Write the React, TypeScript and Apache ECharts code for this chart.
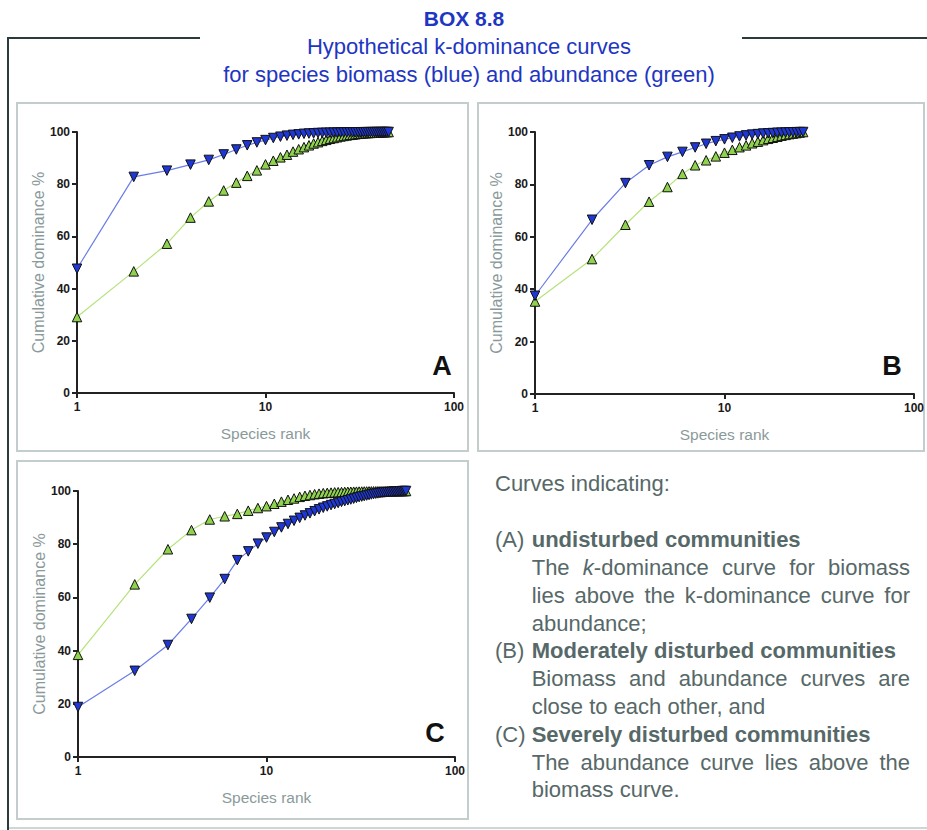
import React, { useEffect, useRef } from "react";
import * as echarts from "echarts";

const FONT = "'Liberation Sans', Arial, Helvetica, sans-serif";

// ---- texts ----
const titleLines = [
  "BOX 8.8",
  "Hypothetical k-dominance curves",
  "for species biomass (blue) and abundance (green)",
];
const panelLetters = ["A", "B", "C"];
const xAxisName = "Species rank";
const yAxisName = "Cumulative dominance %";
const noteIntro = "Curves indicating:";
const noteHeads = ["(A)", "(B)", "(C)"];
const noteTitles = [
  "undisturbed communities",
  "Moderately disturbed communities",
  "Severely disturbed communities",
];
const noteBodies = [
  ["The {i|k}-dominance curve for biomass", "lies above the k-dominance curve for", "abundance;"],
  ["Biomass and abundance curves are", "close to each other, and"],
  ["The abundance curve lies above the", "biomass curve."],
];

// ---- data: cumulative dominance % by species rank (1..n) ----
const biomassA = [
  47.6, 82.8, 85.2, 87.5, 89.3, 91.4, 93.3, 94.9, 96.0, 96.9,
  97.7, 98.2, 98.6, 98.9, 99.1, 99.3, 99.4, 99.5, 99.6, 99.65,
  99.7, 99.72, 99.75, 99.78, 99.8, 99.82, 99.84, 99.86, 99.87, 99.88,
  99.9, 99.91, 99.92, 99.93, 99.94, 99.95, 99.96, 99.97, 99.97, 99.98,
  99.98, 99.99, 99.99, 100, 100,
];
const abundanceA = [
  29.1, 46.6, 57.2, 67.2, 73.4, 77.6, 80.6, 83.2, 85.3, 87.6,
  89.0, 90.3, 91.3, 92.5, 93.4, 94.2, 94.9, 95.6, 96.1, 96.6,
  97.0, 97.4, 97.7, 98.0, 98.3, 98.5, 98.7, 98.9, 99.0, 99.15,
  99.3, 99.4, 99.5, 99.55, 99.6, 99.65, 99.7, 99.75, 99.8, 99.85,
  99.88, 99.91, 99.94, 99.97, 100,
];
const biomassB = [
  37.5, 66.5, 80.5, 87.3, 90.5, 92.4, 94.1, 95.5, 96.5, 97.2,
  97.8, 98.3, 98.7, 99.0, 99.2, 99.4, 99.5, 99.6, 99.7, 99.75,
  99.8, 99.85, 99.9, 99.93, 99.96, 100,
];
const abundanceB = [
  35.3, 51.5, 64.6, 73.4, 79.0, 84.0, 87.3, 89.2, 90.7, 92.1,
  93.2, 94.2, 94.9, 95.7, 96.3, 96.9, 97.4, 97.8, 98.2, 98.6,
  98.9, 99.2, 99.4, 99.6, 99.8, 100,
];
const biomassC = [
  18.8, 32.4, 42.1, 51.9, 59.9, 66.9, 74.0, 77.3, 80.2, 82.5,
  84.6, 86.3, 87.6, 88.8, 89.9, 90.8, 91.6, 92.4, 93.1, 93.7,
  94.2, 94.7, 95.1, 95.5, 95.9, 96.2, 96.5, 96.8, 97.1, 97.4,
  97.7, 97.9, 98.1, 98.3, 98.5, 98.7, 98.85, 99.0, 99.1, 99.2,
  99.3, 99.4, 99.5, 99.55, 99.6, 99.65, 99.7, 99.75, 99.8, 99.85,
  99.9, 99.93, 99.96, 99.98, 100,
];
const abundanceC = [
  38.4, 64.9, 78.1, 85.3, 89.3, 90.5, 91.4, 92.6, 93.6, 94.3,
  95.2, 96.0, 96.7, 97.2, 97.8, 98.2, 98.5, 98.8, 99.0, 99.2,
  99.3, 99.4, 99.5, 99.55, 99.6, 99.65, 99.7, 99.72, 99.74, 99.76,
  99.78, 99.8, 99.82, 99.84, 99.85, 99.86, 99.87, 99.88, 99.89, 99.9,
  99.91, 99.92, 99.93, 99.94, 99.95, 99.96, 99.97, 99.97, 99.98, 99.98,
  99.99, 99.99, 100, 100, 100,
];

const panels = [
  { biomass: biomassA, abundance: abundanceA },
  { biomass: biomassB, abundance: abundanceB },
  { biomass: biomassC, abundance: abundanceC },
];

// ---- styles ----
const BLUE_FILL = "#1f37d4";
const BLUE_LINE = "#6a7de6";
const GREEN_FILL = "#8fd24e";
const GREEN_LINE = "#b6e27c";
const AXIS_COLOR = "#222";
const NAME_COLOR = "#8a9a9a";
const NOTE_COLOR = "#566868";
const TITLE_COLOR = "#1e36c2";
const BOX_COLOR = "#c3cdcd";
const FRAME_COLOR = "#2b3a3a";

const GRIDS = [
  { left: 77, top: 132, width: 377, height: 261 },
  { left: 535, top: 132, width: 381, height: 262 },
  { left: 78, top: 491, width: 377, height: 266 },
];
const BOXES = [
  { x: 17, y: 103, width: 451, height: 348 },
  { x: 478, y: 103, width: 446, height: 348 },
  { x: 17, y: 461, width: 451, height: 358 },
];
const LETTER_POS = [
  [442, 366],
  [892, 366],
  [435, 733],
];

let measureCtx: CanvasRenderingContext2D | null = null;
function measure(text: string, font: string): number {
  if (!measureCtx) measureCtx = document.createElement("canvas").getContext("2d");
  if (!measureCtx) return text.length * 10;
  measureCtx.font = font;
  return measureCtx.measureText(text).width;
}

function buildNotes(): any[] {
  const els: any[] = [];
  const fs = 22;
  const regFont = `${fs}px ${FONT}`;
  const xHead = 495;
  const xBody = 531.7;
  const xRight = 910;
  const lh = 27.8;
  const off = 7.7; // baseline -> middle
  const txt = (x: number, y: number, text: string, bold = false, align = "left") => ({
    type: "text",
    x,
    y: y - off,
    silent: true,
    style: {
      text,
      fill: NOTE_COLOR,
      fontSize: fs,
      fontFamily: FONT,
      fontWeight: bold ? "bold" : "normal",
      align,
      textAlign: align,
      verticalAlign: "middle",
      textVerticalAlign: "middle",
      rich: { i: { fontStyle: "italic", fontSize: fs, fontFamily: FONT, fill: NOTE_COLOR } },
    },
  });
  els.push(txt(xHead, 491, noteIntro));
  let y = 547.3;
  noteHeads.forEach((head, k) => {
    els.push(txt(xHead, y, head));
    els.push(txt(xBody, y, noteTitles[k], true));
    y += lh;
    const body = noteBodies[k];
    body.forEach((line, j) => {
      const last = j === body.length - 1;
      if (last) {
        els.push(txt(xBody, y, line));
      } else {
        const words = line.split(" ");
        const widths = words.map((w) => measure(w.replace(/\{i\|(.*?)\}/g, "$1"), regFont));
        const total = widths.reduce((a, b) => a + b, 0);
        const gap = (xRight - xBody - total) / (words.length - 1);
        let x = xBody;
        words.forEach((w, m) => {
          els.push(txt(x, y, w));
          x += widths[m] + gap;
        });
      }
      y += lh;
    });
  });
  return els;
}

function buildOption(): any {
  const grid = GRIDS.map((g) => ({ ...g, containLabel: false }));
  const axisLineStyle = { color: AXIS_COLOR, width: 2 };
  const labelStyle = { color: "#1a1a1a", fontSize: 12, fontWeight: "bold", fontFamily: FONT };
  const xAxis = GRIDS.map((_, i) => ({
    type: "log",
    logBase: 10,
    min: 1,
    max: 100,
    gridIndex: i,
    name: xAxisName,
    nameLocation: "middle",
    nameGap: 32,
    nameTextStyle: { color: NAME_COLOR, fontSize: 15.5, fontFamily: FONT },
    axisLine: { show: true, lineStyle: axisLineStyle },
    axisTick: { show: true, inside: false, length: 5, lineStyle: axisLineStyle },
    minorTick: { show: false },
    splitLine: { show: false },
    axisLabel: { ...labelStyle, margin: 8 },
  }));
  const yAxis = GRIDS.map((_, i) => ({
    type: "value",
    min: 0,
    max: 100,
    interval: 20,
    gridIndex: i,
    name: yAxisName,
    nameLocation: "middle",
    nameRotate: 90,
    nameGap: 30,
    nameTextStyle: { color: NAME_COLOR, fontSize: 16, fontFamily: FONT },
    axisLine: { show: true, lineStyle: axisLineStyle },
    axisTick: { show: true, inside: false, length: 5, lineStyle: axisLineStyle },
    splitLine: { show: false },
    axisLabel: { ...labelStyle, margin: 7 },
  }));
  const series: any[] = [];
  panels.forEach((p, i) => {
    series.push({
      type: "line",
      name: "abundance",
      xAxisIndex: i,
      yAxisIndex: i,
      data: p.abundance.map((v, k) => [k + 1, v]),
      symbol: "triangle",
      symbolSize: 9.5,
      showAllSymbol: true,
      lineStyle: { color: GREEN_LINE, width: 1.2 },
      itemStyle: { color: GREEN_FILL, borderColor: "#111", borderWidth: 1 },
      z: 2,
      silent: true,
    });
    series.push({
      type: "line",
      name: "biomass",
      xAxisIndex: i,
      yAxisIndex: i,
      data: p.biomass.map((v, k) => [k + 1, v]),
      symbol: "triangle",
      symbolRotate: 180,
      symbolSize: 9.5,
      showAllSymbol: true,
      lineStyle: { color: BLUE_LINE, width: 1.2 },
      itemStyle: { color: BLUE_FILL, borderColor: "#111", borderWidth: 1 },
      z: 3,
      silent: true,
    });
  });

  const graphics: any[] = [];
  // outer frame
  const frameStyle = { stroke: FRAME_COLOR, lineWidth: 2 };
  graphics.push({ type: "line", shape: { x1: 7, y1: 38, x2: 200, y2: 38 }, style: frameStyle, silent: true });
  graphics.push({ type: "line", shape: { x1: 742, y1: 38, x2: 927, y2: 38 }, style: frameStyle, silent: true });
  graphics.push({ type: "line", shape: { x1: 8, y1: 37, x2: 8, y2: 830 }, style: frameStyle, silent: true });
  graphics.push({ type: "line", shape: { x1: 9, y1: 828, x2: 927, y2: 828 }, style: { stroke: "#cfd6d6", lineWidth: 2 }, silent: true });
  // panel boxes
  BOXES.forEach((b) =>
    graphics.push({ type: "rect", shape: b, style: { fill: "none", stroke: BOX_COLOR, lineWidth: 2 }, silent: true, z: -10 })
  );
  // panel letters
  panelLetters.forEach((l, i) =>
    graphics.push({
      type: "text",
      x: LETTER_POS[i][0],
      y: LETTER_POS[i][1],
      silent: true,
      style: {
        text: l,
        fill: "#111",
        fontSize: 27,
        fontWeight: "bold",
        fontFamily: FONT,
        align: "center",
        textAlign: "center",
        verticalAlign: "middle",
        textVerticalAlign: "middle",
      },
    })
  );
  // title
  const titleY = [18, 46, 74];
  titleLines.forEach((t, i) =>
    graphics.push({
      type: "text",
      x: i === 0 ? 464 : 469,
      y: titleY[i],
      silent: true,
      style: {
        text: t,
        fill: TITLE_COLOR,
        fontSize: i === 0 ? 21 : 22,
        fontWeight: i === 0 ? "bold" : "normal",
        fontFamily: FONT,
        align: "center",
        textAlign: "center",
        verticalAlign: "middle",
        textVerticalAlign: "middle",
      },
    })
  );
  graphics.push(...buildNotes());

  return {
    animation: false,
    backgroundColor: "#ffffff",
    textStyle: { fontFamily: FONT },
    grid,
    xAxis,
    yAxis,
    series,
    graphic: { elements: graphics },
  };
}

export default function App() {
  const ref = useRef<HTMLDivElement>(null);
  useEffect(() => {
    if (!ref.current) return;
    const chart = echarts.init(ref.current, undefined, { renderer: "svg" });
    chart.setOption(buildOption());
    return () => chart.dispose();
  }, []);
  return (
    <div
      ref={ref}
      style={{ position: "absolute", left: 0, top: 0, width: 927, height: 830, background: "#fff" }}
    />
  );
}
